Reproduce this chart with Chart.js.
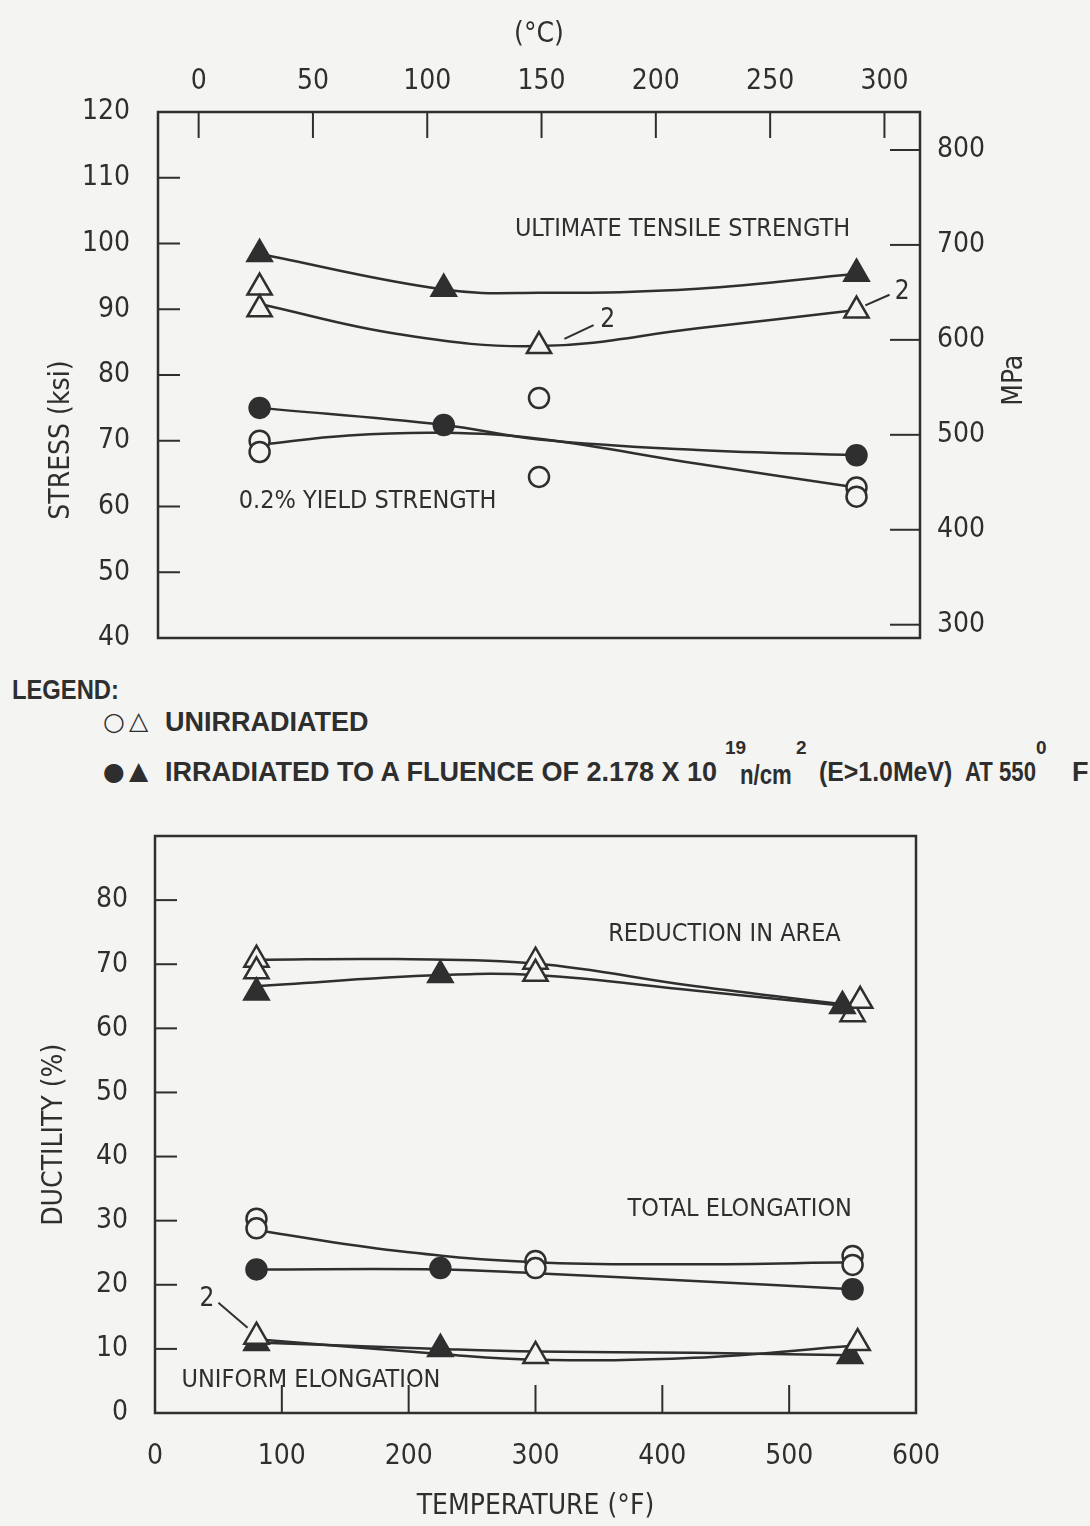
<!DOCTYPE html>
<html lang="en">
<head>
<meta charset="utf-8">
<title>Tensile properties vs test temperature</title>
<script src="https://cdn.jsdelivr.net/npm/chart.js@4.4.1/dist/chart.umd.min.js"></script>
<style>
  html, body { margin: 0; padding: 0; }
  body { width: 1090px; height: 1526px; background: #f4f4f2; position: relative; overflow: hidden; }
  #stress-chart { position: absolute; left: 0; top: 0; }
  #ductility-chart { position: absolute; left: 0; top: 800px; }
  .leg { position: absolute; font-family: 'Liberation Sans', Arial, sans-serif; font-weight: bold;
         font-size: 27px; line-height: 30px; color: #2e2e2e; white-space: nowrap; }
  .sym { font-family: 'DejaVu Sans', sans-serif; font-weight: normal; font-size: 25px; }
  .sup { font-size: 19px; line-height: 22px; }
  .narrow { transform: scaleX(0.82); transform-origin: left center; }
  .semi { transform: scaleX(0.92); transform-origin: left center; }
</style>
</head>
<body>
<canvas id="stress-chart" width="1090" height="660"></canvas>

<div class="leg narrow" style="left:12px; top:675px; transform: scaleX(0.88);">LEGEND:</div>
<div class="leg sym" style="left:103px; top:707px;">○</div>
<div class="leg sym" style="left:129px; top:706px;">△</div>
<div class="leg" style="left:165px; top:707px;">UNIRRADIATED</div>
<div class="leg sym" style="left:103px; top:757px;">●</div>
<div class="leg sym" style="left:129px; top:756px;">▲</div>
<div class="leg" style="left:165px; top:757px;">IRRADIATED TO A FLUENCE OF 2.178 X 10</div>
<div class="leg sup" style="left:725px; top:737px;">19</div>
<div class="leg narrow" style="left:740px; top:760px;">n/cm</div>
<div class="leg sup" style="left:796px; top:737px;">2</div>
<div class="leg semi" style="left:819px; top:757px;">(E&gt;1.0MeV)</div>
<div class="leg narrow" style="left:965px; top:757px;">AT 550</div>
<div class="leg sup" style="left:1036px; top:737px;">0</div>
<div class="leg" style="left:1072px; top:757px;">F</div>

<canvas id="ductility-chart" width="1090" height="726"></canvas>

<script>
// ---- stress panel (ksi), temperatures in deg F ----
const celsiusTicks = [0, 50, 100, 150, 200, 250, 300];
const stressTicks = [40, 50, 60, 70, 80, 90, 100, 110, 120];
const mpaTicks = [300, 400, 500, 600, 700, 800];

// ultimate tensile strength
const utsIrrTemp = [80, 225, 550];
const utsIrr = [98.4, 93.1, 95.4];
const utsUnirrTemp = [80, 80, 300, 550];
const utsUnirr = [93.3, 90.0, 84.4, 89.8];
// 0.2% yield strength
const ysIrrTemp = [80, 225, 550];
const ysIrr = [75.0, 72.4, 67.8];
const ysUnirrTemp = [80, 80, 300, 300, 550, 550];
const ysUnirr = [70.0, 68.3, 76.5, 64.5, 62.9, 61.5];

const utsIrrFitTemp = [80, 225, 300, 425, 550];
const utsIrrFit = [98.4, 93.0, 92.5, 93.1, 95.4];
const utsUnirrFitTemp = [80, 190, 300, 425, 550];
const utsUnirrFit = [90.8, 86.2, 84.4, 87.1, 89.9];
const ysIrrFitTemp = [80, 225, 300, 425, 550];
const ysIrrFit = [75.0, 72.4, 70.2, 68.6, 67.8];
const ysUnirrFitTemp = [80, 150, 225, 300, 425, 550];
const ysUnirrFit = [69.4, 70.8, 71.2, 70.3, 66.5, 62.9];

// ---- ductility panel (%) ----
const fahrTicks = [0, 100, 200, 300, 400, 500, 600];
const ductTicks = [0, 10, 20, 30, 40, 50, 60, 70, 80];

// reduction in area
const raIrrTemp = [80, 225, 542];
const raIrr = [65.6, 68.3, 63.5];
const raUnirrTemp = [80, 80, 300, 300, 550, 556];
const raUnirr = [70.7, 68.9, 70.4, 68.5, 62.2, 64.3];
// total elongation
const teIrrTemp = [80, 225, 550];
const teIrr = [22.4, 22.6, 19.3];
const teUnirrTemp = [80, 80, 300, 300, 550, 550];
const teUnirr = [30.3, 28.8, 23.7, 22.6, 24.5, 23.1];
// uniform elongation
const ueIrrTemp = [80, 225, 548];
const ueIrr = [10.9, 10.0, 8.9];
const ueUnirrTemp = [80, 300, 554];
const ueUnirr = [11.9, 8.9, 10.9];

const raUnirrFitTemp = [80, 190, 300, 425, 545];
const raUnirrFit = [70.7, 70.8, 70.1, 66.6, 63.7];
const raIrrFitTemp = [80, 225, 300, 425, 545];
const raIrrFit = [66.6, 68.3, 68.3, 65.9, 63.5];
const teUnirrFitTemp = [80, 190, 300, 425, 550];
const teUnirrFit = [28.5, 25.3, 23.5, 23.2, 23.5];
const teIrrFitTemp = [80, 225, 300, 425, 550];
const teIrrFit = [22.4, 22.4, 21.8, 20.6, 19.3];
const ueUnirrFitTemp = [80, 225, 300, 425, 550];
const ueUnirrFit = [11.5, 9.2, 8.3, 8.6, 10.5];
const ueIrrFitTemp = [80, 225, 300, 425, 550];
const ueIrrFit = [11.0, 10.0, 9.6, 9.4, 9.0];

const ink = '#2f2f2f';
const paper = '#f4f4f2';
const plotFamily = "'Liberation Sans Narrow', 'DejaVu Sans Condensed', 'Liberation Sans', sans-serif";
const tickFont = { family: plotFamily, size: 28 };
const noteFont = "25px " + plotFamily;

const pts = (xs, ys) => xs.map((x, i) => ({ x: x, y: ys[i] }));
const fToC = f => (f - 32) / 1.8;

function markers(xs, ys, style, filled) {
  return {
    data: pts(xs, ys),
    showLine: false,
    pointStyle: style,
    pointRadius: style === 'triangle' ? 14 : 10,
    pointBackgroundColor: filled ? ink : paper,
    pointBorderColor: ink,
    pointBorderWidth: 2.5,
    order: 0
  };
}

function curve(xs, ys) {
  return {
    data: pts(xs, ys),
    borderColor: ink,
    borderWidth: 2.5,
    pointRadius: 0,
    tension: 0.4,
    fill: false,
    order: 1
  };
}

// the tick labels hang outside the box; don't let them push the plot area in
function fixWidth(w) {
  return s => { s.width = w; s.paddingTop = 0; s.paddingBottom = 0; };
}

// box round the plot, tick marks pointing inwards
const framePlugin = {
  id: 'frame',
  afterDatasetsDraw(chart, args, opts) {
    const { ctx, chartArea: a } = chart;
    ctx.save();
    ctx.strokeStyle = ink;
    ctx.lineWidth = 2.5;
    ctx.strokeRect(a.left, a.top, a.right - a.left, a.bottom - a.top);
    ctx.lineWidth = 2;
    opts.ticks.forEach(t => {
      const s = chart.scales[t.axis];
      s.ticks.forEach(tk => {
        if (tk.value <= s.min || tk.value >= s.max) return;
        const p = s.getPixelForValue(tk.value);
        ctx.beginPath();
        if (t.side === 'left') { ctx.moveTo(a.left, p); ctx.lineTo(a.left + t.len, p); }
        if (t.side === 'right') { ctx.moveTo(a.right, p); ctx.lineTo(a.right - t.len, p); }
        if (t.side === 'top') { ctx.moveTo(p, a.top); ctx.lineTo(p, a.top + t.len); }
        if (t.side === 'bottom') { ctx.moveTo(p, a.bottom); ctx.lineTo(p, a.bottom - t.len); }
        ctx.stroke();
      });
    });
    ctx.restore();
  }
};

// curve labels, "2" call-outs and the rotated axis titles
const notesPlugin = {
  id: 'notes',
  afterDatasetsDraw(chart, args, opts) {
    const { ctx, chartArea: a } = chart;
    const x = chart.scales.x, y = chart.scales.y;
    ctx.save();
    ctx.fillStyle = ink;
    ctx.strokeStyle = ink;
    ctx.lineWidth = 2;
    ctx.textAlign = 'center';
    ctx.textBaseline = 'middle';
    opts.items.forEach(n => {
      if (n.from) {
        ctx.beginPath();
        ctx.moveTo(x.getPixelForValue(n.from[0]), y.getPixelForValue(n.from[1]));
        ctx.lineTo(x.getPixelForValue(n.to[0]), y.getPixelForValue(n.to[1]));
        ctx.stroke();
      }
      ctx.font = n.size ? n.size + 'px ' + plotFamily : noteFont;
      ctx.fillText(n.text, x.getPixelForValue(n.x), y.getPixelForValue(n.y));
    });
    opts.titles.forEach(t => {
      const s = chart.scales[t.axis];
      const px = t.side === 'left' ? a.left - t.gap : a.right + t.gap;
      ctx.save();
      ctx.translate(px, s.getPixelForValue(t.at));
      ctx.rotate(-Math.PI / 2);
      ctx.font = '28px ' + plotFamily;
      ctx.fillText(t.text, 0, 0);
      ctx.restore();
    });
    ctx.restore();
  }
};

window.addEventListener('load', function () {
  Chart.defaults.color = ink;
  Chart.defaults.font.family = plotFamily;

  new Chart(document.getElementById('stress-chart'), {
    type: 'line',
    data: {
      datasets: [
        markers(utsIrrTemp, utsIrr, 'triangle', true),
        markers(utsUnirrTemp, utsUnirr, 'triangle', false),
        markers(ysIrrTemp, ysIrr, 'circle', true),
        markers(ysUnirrTemp, ysUnirr, 'circle', false),
        curve(utsIrrFitTemp, utsIrrFit),
        curve(utsUnirrFitTemp, utsUnirrFit),
        curve(ysIrrFitTemp, ysIrrFit),
        curve(ysUnirrFitTemp, ysUnirrFit)
      ]
    },
    options: {
      responsive: false,
      animation: false,
      layout: { padding: { left: 0, right: 0, top: 0, bottom: 22 } },
      plugins: {
        legend: { display: false },
        tooltip: { enabled: false },
        frame: {
          ticks: [
            { axis: 'y', side: 'left', len: 22 },
            { axis: 'y2', side: 'right', len: 30 },
            { axis: 'x2', side: 'top', len: 26 }
          ]
        },
        notes: {
          items: [
            { text: 'ULTIMATE TENSILE STRENGTH', x: 413, y: 102.1 },
            { text: '0.2% YIELD STRENGTH', x: 165, y: 60.7 },
            { text: '2', x: 354, y: 88.4, from: [320, 85.5], to: [343, 87.6], size: 26 },
            { text: '2', x: 586, y: 92.6, from: [557, 90.6], to: [576, 92.2], size: 26 }
          ],
          titles: [
            { text: 'STRESS (ksi)', axis: 'y', at: 70.1, side: 'left', gap: 96 },
            { text: 'MPa', axis: 'y', at: 79.2, side: 'right', gap: 95 }
          ]
        }
      },
      scales: {
        x: { type: 'linear', min: 0, max: 600, display: false },
        x2: {
          type: 'linear',
          position: 'top',
          min: fToC(0),
          max: fToC(600),
          afterBuildTicks: s => { s.ticks = celsiusTicks.map(v => ({ value: v })); },
          afterFit: s => { s.height = 112; },
          grid: { display: false, drawTicks: false },
          border: { display: false },
          ticks: { font: tickFont, color: ink, padding: 13, maxRotation: 0 },
          title: { display: true, text: '(°C)', font: tickFont, color: ink, padding: { top: 18, bottom: 0 } }
        },
        y: {
          type: 'linear',
          min: 40,
          max: 120,
          afterBuildTicks: s => { s.ticks = stressTicks.map(v => ({ value: v })); },
          afterFit: fixWidth(158),
          grid: { display: false, drawTicks: false },
          border: { display: false },
          ticks: { font: tickFont, color: ink, padding: 28 }
        },
        y2: {
          type: 'linear',
          position: 'right',
          min: 286,
          max: 840,
          afterBuildTicks: s => { s.ticks = mpaTicks.map(v => ({ value: v })); },
          afterFit: fixWidth(170),
          grid: { display: false, drawTicks: false },
          border: { display: false },
          ticks: { font: tickFont, color: ink, padding: 17 }
        }
      }
    },
    plugins: [framePlugin, notesPlugin]
  });

  new Chart(document.getElementById('ductility-chart'), {
    type: 'line',
    data: {
      datasets: [
        markers(raIrrTemp, raIrr, 'triangle', true),
        markers(raUnirrTemp, raUnirr, 'triangle', false),
        markers(teIrrTemp, teIrr, 'circle', true),
        markers(teUnirrTemp, teUnirr, 'circle', false),
        markers(ueUnirrTemp, ueUnirr, 'triangle', false),
        markers(ueIrrTemp, ueIrr, 'triangle', true),
        curve(raUnirrFitTemp, raUnirrFit),
        curve(raIrrFitTemp, raIrrFit),
        curve(teUnirrFitTemp, teUnirrFit),
        curve(teIrrFitTemp, teIrrFit),
        curve(ueUnirrFitTemp, ueUnirrFit),
        curve(ueIrrFitTemp, ueIrrFit)
      ]
    },
    options: {
      responsive: false,
      animation: false,
      layout: { padding: { left: 0, right: 174, top: 36, bottom: 0 } },
      plugins: {
        legend: { display: false },
        tooltip: { enabled: false },
        frame: {
          ticks: [
            { axis: 'y', side: 'left', len: 22 },
            { axis: 'x', side: 'bottom', len: 28 }
          ]
        },
        notes: {
          items: [
            { text: 'REDUCTION IN AREA', x: 449, y: 74.6 },
            { text: 'TOTAL ELONGATION', x: 461, y: 31.7 },
            { text: 'UNIFORM ELONGATION', x: 123, y: 5.1 },
            { text: '2', x: 41, y: 17.8, from: [50, 17.2], to: [73, 13.3], size: 26 }
          ],
          titles: [
            { text: 'DUCTILITY (%)', axis: 'y', at: 43.4, side: 'left', gap: 100 }
          ]
        }
      },
      scales: {
        x: {
          type: 'linear',
          position: 'bottom',
          min: 0,
          max: 600,
          afterBuildTicks: s => { s.ticks = fahrTicks.map(v => ({ value: v })); },
          afterFit: s => { s.height = 113; },
          grid: { display: false, drawTicks: false },
          border: { display: false },
          ticks: { font: tickFont, color: ink, padding: 27, maxRotation: 0 },
          title: { display: true, text: 'TEMPERATURE (°F)', font: tickFont, color: ink, padding: { top: 0, bottom: 2 } }
        },
        y: {
          type: 'linear',
          min: 0,
          max: 90,
          afterBuildTicks: s => { s.ticks = ductTicks.map(v => ({ value: v })); },
          afterFit: fixWidth(155),
          grid: { display: false, drawTicks: false },
          border: { display: false },
          ticks: { font: tickFont, color: ink, padding: 27 }
        }
      }
    },
    plugins: [framePlugin, notesPlugin]
  });
});
</script>
</body>
</html>
